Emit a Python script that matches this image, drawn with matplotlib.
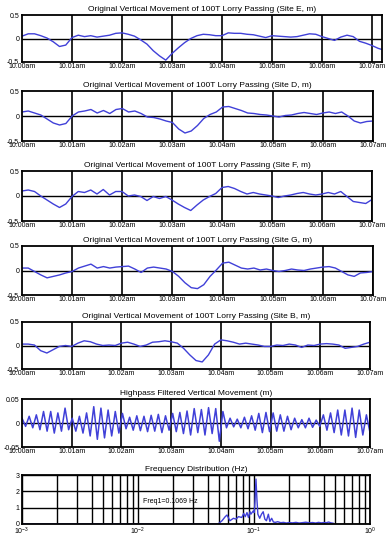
import numpy as np
import matplotlib
matplotlib.use("Agg")
import matplotlib.pyplot as plt
from matplotlib.ticker import LogLocator

plt.rcParams['font.family'] = ['Liberation Sans', 'DejaVu Sans']

time_labels = ['10.00am', '10.01am', '10.02am', '10.03am', '10.04am', '10.05am', '10.06am', '10.07am']
sites = ['E', 'D', 'F', 'G', 'B']

# vertical movement (m), read every 0.125 min
site_e = [0.05, 0.1, 0.1, 0.06, 0.01, -0.07, -0.17, -0.14, 0.02, 0.07, 0.04, 0.06, 0.03, 0.05, 0.07, 0.11,
          0.12, 0.09, 0.05, -0.03, -0.12, -0.26, -0.37, -0.46, -0.32, -0.2, -0.09, 0.0, 0.06, 0.09, 0.08, 0.06,
          0.06, 0.12, 0.11, 0.11, 0.09, 0.08, 0.05, 0.02, 0.06, 0.05, 0.04, 0.03, 0.04, 0.07, 0.1, 0.09,
          0.04, 0.0, -0.04, 0.03, 0.07, 0.04, -0.06, -0.1, -0.15, -0.21, -0.25]
site_d = [0.08, 0.1, 0.06, 0.02, -0.06, -0.14, -0.18, -0.15, 0.0, 0.08, 0.1, 0.13, 0.06, 0.11, 0.05, 0.13,
          0.15, 0.08, 0.1, 0.05, -0.02, -0.03, -0.06, -0.1, -0.13, -0.26, -0.34, -0.3, -0.19, -0.05, 0.03, 0.08,
          0.18, 0.19, 0.15, 0.11, 0.06, 0.05, 0.03, 0.02, 0.0, -0.02, 0.01, 0.02, 0.05, 0.07, 0.05, 0.03,
          0.06, 0.08, 0.05, 0.08, 0.0, -0.1, -0.14, -0.11, -0.1]
site_f = [0.1, 0.12, 0.09, 0.0, -0.08, -0.16, -0.23, -0.16, -0.01, 0.09, 0.07, 0.12, 0.04, 0.13, 0.02, 0.09,
          0.09, 0.0, 0.02, -0.01, -0.09, -0.01, -0.05, -0.01, -0.08, -0.16, -0.23, -0.29, -0.18, -0.08, -0.01, 0.05,
          0.17, 0.19, 0.15, 0.09, 0.04, 0.07, 0.04, 0.02, 0.0, -0.03, 0.0, 0.02, 0.05, 0.07, 0.04, 0.02,
          0.04, 0.07, 0.04, 0.09, -0.01, -0.11, -0.13, -0.15, -0.07]
site_g = [0.05, 0.05, -0.02, -0.09, -0.15, -0.12, -0.09, -0.05, -0.02, 0.05, 0.09, 0.13, 0.05, 0.08, 0.05, 0.07,
          0.08, 0.09, 0.03, -0.04, 0.05, 0.07, 0.05, 0.03, -0.02, -0.12, -0.25, -0.35, -0.37, -0.29, -0.12, 0.01,
          0.15, 0.17, 0.11, 0.05, 0.03, 0.05, 0.01, 0.03, 0.0, -0.02, 0.0, 0.03, 0.01, 0.0, 0.03, 0.05,
          0.07, 0.08, 0.05, -0.02, -0.09, -0.12, -0.05, -0.04, -0.02]
site_b = [0.03, 0.03, 0.01, -0.11, -0.16, -0.09, -0.02, 0.0, -0.02, 0.05, 0.1, 0.08, 0.03, 0.0, 0.01, 0.0,
          0.05, 0.07, 0.03, -0.02, 0.01, 0.07, 0.08, 0.1, 0.08, 0.05, -0.06, -0.2, -0.32, -0.35, -0.2, 0.03,
          0.12, 0.1, 0.07, 0.03, 0.05, 0.03, 0.01, -0.02, -0.02, 0.01, 0.0, 0.03, 0.01, -0.04, 0.01, 0.0,
          0.03, 0.04, 0.03, 0.01, -0.06, -0.04, -0.02, 0.03, 0.07]
site_data = [site_e, site_d, site_f, site_g, site_b]

# highpass filtered movement: successive peak / trough values (m)
hp_peaks = [0.01, 0.014, 0.017, 0.024, 0.024, 0.021, 0.031,
            0.01, 0.014, 0.021, 0.034, 0.031, 0.027, 0.024,
            0.02, 0.012, 0.015, 0.014, 0.016, 0.018, 0.015,
            0.02, 0.022, 0.025, 0.03, 0.028, 0.032, 0.03,
            0.024, 0.01, 0.008, 0.012, 0.015, 0.02, 0.022,
            0.021, 0.017, 0.014, 0.01, 0.007, 0.01, 0.006,
            0.017, 0.021, 0.027, 0.027, 0.031, 0.027, 0.017]
hp_troughs = [-0.007, -0.01, -0.014, -0.017, -0.021, -0.017, -0.014,
              -0.017, -0.021, -0.027, -0.034, -0.031, -0.027, -0.021,
              -0.012, -0.015, -0.016, -0.018, -0.017, -0.02, -0.015,
              -0.018, -0.022, -0.025, -0.02, -0.025, -0.022, -0.038,
              -0.01, -0.008, -0.01, -0.012, -0.015, -0.02, -0.018,
              -0.017, -0.017, -0.014, -0.01, -0.01, -0.009, -0.007,
              -0.015, -0.02, -0.025, -0.027, -0.03, -0.025, -0.02]

# frequency distribution
freq = [0.001, 0.049, 0.053, 0.0565, 0.0585, 0.062, 0.0665, 0.07, 0.0735, 0.0785, 0.0815, 0.084, 0.087,
        0.0895, 0.0925, 0.094, 0.0985, 0.1005, 0.102, 0.104, 0.106, 0.108, 0.112, 0.116, 0.12, 0.124, 0.128,
        0.133, 0.137, 0.142, 0.147, 0.153, 0.16, 0.17, 0.18, 0.19, 0.2, 0.215, 0.23, 0.245, 0.26, 0.28, 0.3,
        0.32, 0.34, 0.36, 0.38, 0.4, 0.42, 0.44, 0.46, 0.48]
amp = [0, 0, 0.2, 0.45, 0.55, 0.2, 0.35, 0.3, 0.45, 0.4, 0.65, 0.45, 0.7,
       0.4, 0.75, 0.6, 0.8, 0.7, 1.4, 2.75, 1.5, 0.6, 0.35, 0.6, 0.75, 0.3, 0.2,
       0.6, 0.15, 0.35, 0.12, 0.1, 0.14, 0.08, 0.1, 0.06, 0.09, 0.07, 0.1, 0.06, 0.08, 0.11, 0.07,
       0.09, 0.06, 0.1, 0.07, 0.09, 0.08, 0.12, 0.07, 0.05]

W, H = 391, 544
fig = plt.figure(figsize=(W / 100, H / 100), dpi=100)

# pixel boxes: left, right, top, bottom
boxes = [(22, 382, 15, 62), (22, 373, 91, 141), (22, 372, 171, 221), (22, 373, 246, 295),
         (22, 370, 322, 369), (22, 370, 399, 447), (22, 370, 475, 524)]

def make_ax(b):
    l, r, t, bt = b
    return fig.add_axes([l / W, 1 - bt / H, (r - l) / W, (bt - t) / H])

blue = '#4040d8'

def style_time_axis(ax, xmax):
    ax.set_xlim(0, xmax)
    ax.set_xticks(range(8))
    ax.set_xticklabels(time_labels)
    for m in range(1, 8):
        ax.axvline(m, color='black', lw=1.2, zorder=1)
    ax.axhline(0, color='black', lw=1.0, zorder=1)
    ax.tick_params(labelsize=5, length=0, pad=1)
    ax.tick_params(axis='y', pad=2)
    for s in ax.spines.values():
        s.set_linewidth(1.3)

for i, (site, vals) in enumerate(zip(sites, site_data)):
    ax = make_ax(boxes[i])
    t = np.arange(len(vals)) * 0.125
    ax.plot(t, vals, color=blue, lw=1.0, zorder=2)
    style_time_axis(ax, 7.2 if i == 0 else 7.0)
    ax.set_ylim(-0.5, 0.5)
    ax.set_yticks([-0.5, 0, 0.5])
    ax.set_yticklabels(['-0.5', '0', '0.5'])
    ax.set_title('Original Vertical Movement of 100T Lorry Passing (Site %s, m)' % site, fontsize=6, pad=3)

# highpass panel
ax = make_ax(boxes[5])
hp = []
for p, q in zip(hp_peaks, hp_troughs):
    hp += [p, q]
hp_t = np.linspace(0, 7, len(hp))
ax.plot(hp_t, hp, color=blue, lw=1.1, zorder=2)
style_time_axis(ax, 7.0)
ax.set_ylim(-0.05, 0.05)
ax.set_yticks([-0.05, 0, 0.05])
ax.set_yticklabels(['-0.05', '0', '0.05'])
ax.set_title('Highpass Filtered Vertical Movement (m)', fontsize=6, pad=3)

# frequency panel
ax = make_ax(boxes[6])
ax.plot(freq, amp, color=blue, lw=1.0, zorder=2)
ax.set_xscale('log')
ax.set_xlim(1e-3, 1)
ax.set_ylim(0, 3)
ax.set_yticks([0, 1, 2, 3])
ax.xaxis.set_major_locator(LogLocator(base=10, numticks=10))
ax.xaxis.set_minor_locator(LogLocator(base=10, subs=np.arange(2, 10), numticks=20))
ax.grid(True, which='both', axis='x', color='black', lw=1.0)
ax.grid(True, which='major', axis='y', color='black', lw=1.0)
ax.set_axisbelow(True)
ax.tick_params(labelsize=5, length=0, pad=1, which='both')
ax.tick_params(axis='y', pad=2)
for s in ax.spines.values():
    s.set_linewidth(1.3)
ax.text(0.011, 1.4, 'Freq1=0.1069 Hz', fontsize=5, va='center', ha='left')
ax.set_title('Frequency Distribution (Hz)', fontsize=6, pad=3)

fig.savefig('out.png', dpi=100)
